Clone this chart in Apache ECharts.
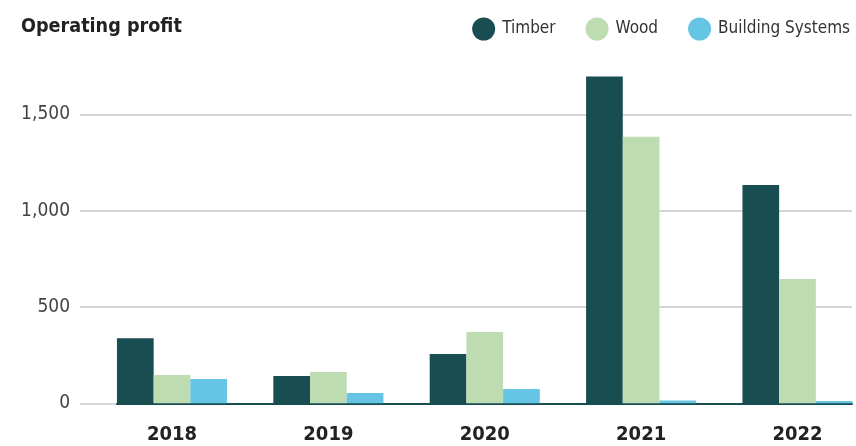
<!DOCTYPE html>
<html><head><meta charset="utf-8">
<script src="https://cdn.jsdelivr.net/npm/echarts@6/dist/echarts.min.js"></script>
<style>html,body{margin:0;padding:0;background:#fff}#c{width:856px;height:446px}</style>
</head><body><div id="c"></div>
<script>
const categories = ['2018', '2019', '2020', '2021', '2022'];
const timber = [338, 142, 256, 1696, 1133];
const wood = [147, 163, 370, 1383, 645];
const buildingSystems = [126, 54, 74, 15, 12];
const yTicks = [0, 500, 1000, 1500];
const seriesNames = ['Timber', 'Wood', 'Building Systems'];
const colors = ['#184d52', '#bedcb2', '#66c4e5'];

const FONT = 'DejaVu Sans Condensed';
const chart = echarts.init(document.getElementById('c'), null, {renderer: 'canvas'});
const gTop = 18, gBottom = 42.7;
const yBase = {min: 0, max: 2000, interval: 500};
chart.setOption({
  animation: false,
  color: colors,
  title: {
    text: 'Operating profit', left: 16, top: 12,
    textStyle: {fontFamily: FONT, fontWeight: 'bold', fontSize: 19.6, color: '#222'}
  },
  legend: {
    right: 1, top: 12.5, icon: 'circle', itemWidth: 23, itemHeight: 23, itemGap: 30,
    textStyle: {fontFamily: FONT, fontSize: 17, color: '#333', padding: [0, 0, 0, 2]},
    data: seriesNames
  },
  grid: [
    {left: 172, right: 58.5, top: gTop, bottom: gBottom},
    {left: 80, right: 4, top: gTop, bottom: gBottom},
    {left: 117, right: 4, top: gTop, bottom: gBottom}
  ],
  xAxis: [
    {gridIndex: 0, type: 'category', data: categories, boundaryGap: false,
     axisLine: {show: false}, axisTick: {show: false}, splitLine: {show: false},
     axisLabel: {margin: 21, fontFamily: FONT, fontWeight: 'bold', fontSize: 20, color: '#222'}},
    {gridIndex: 1, type: 'value', show: false},
    {gridIndex: 2, type: 'value', min: 0, max: 1, axisLabel: {show: false}, axisTick: {show: false}, splitLine: {show: false},
     axisLine: {show: true, lineStyle: {color: '#184d52', width: 2}}, z: 1}
  ],
  yAxis: [
    Object.assign({gridIndex: 0, type: 'value', show: false}, yBase),
    Object.assign({gridIndex: 1, type: 'value', axisLine: {show: false}, axisTick: {show: false},
      axisLabel: {margin: 10, fontFamily: FONT, fontSize: 19, color: '#444', padding: [4, 0, 0, 0],
        formatter: v => yTicks.includes(v) ? v.toLocaleString('en-US') : ''},
      splitLine: {lineStyle: {color: ['#c8c8c8', '#c8c8c8', '#c8c8c8', '#c8c8c8', 'rgba(0,0,0,0)'], width: 1.5}}}, yBase),
    Object.assign({gridIndex: 2, type: 'value', show: false}, yBase)
  ],
  series: [timber, wood, buildingSystems].map((d, i) => ({
    name: seriesNames[i], type: 'bar', xAxisIndex: 0, yAxisIndex: 0, data: d,
    barGap: '0%', barWidth: 36.7, clip: false, z: 2
  }))
});
</script></body></html>
